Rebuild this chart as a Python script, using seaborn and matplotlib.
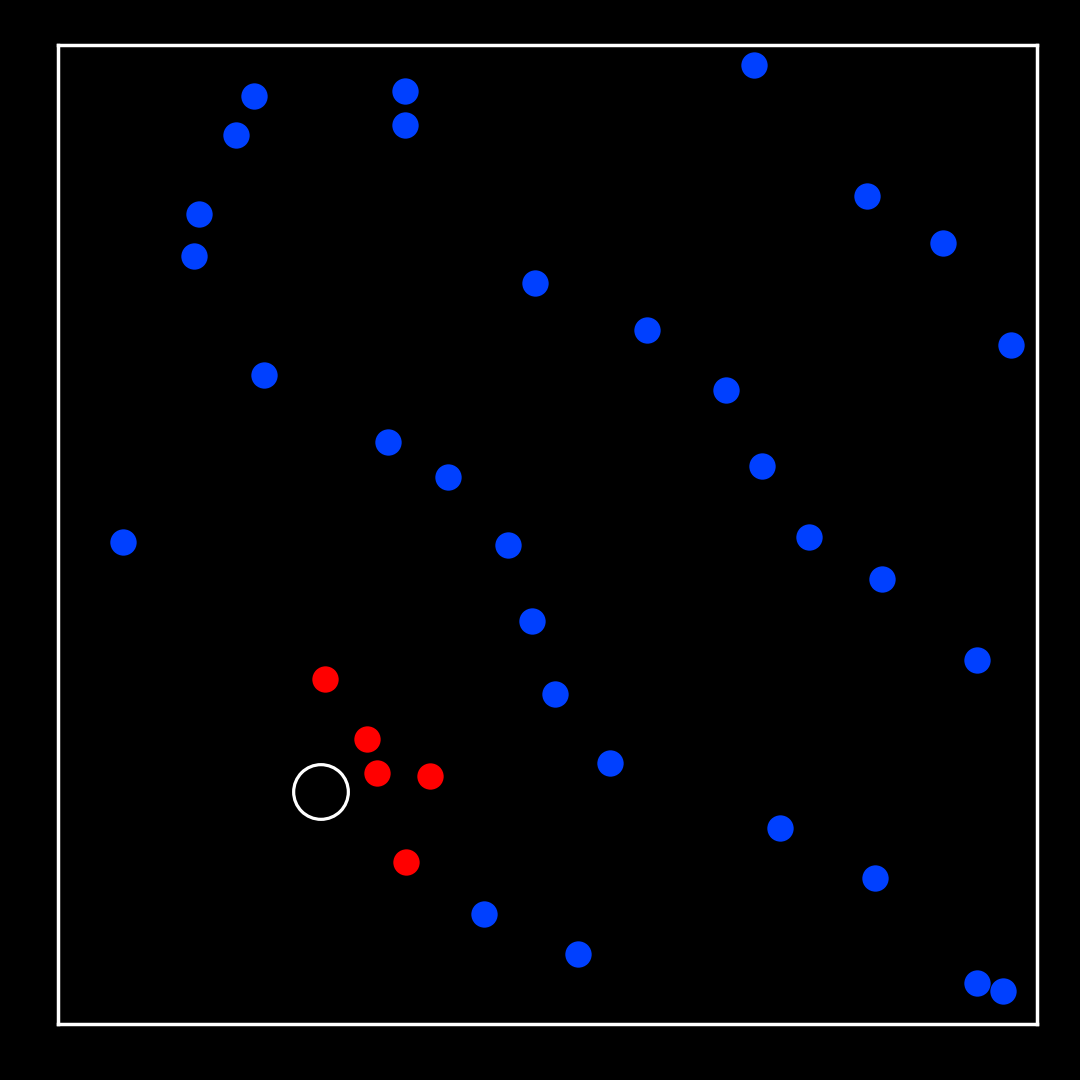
import seaborn as sns
import pandas as pd
from matplotlib import pyplot as plt

# Positions (pixel units inside the frame, y up)
blue_x = [196, 347, 696, 178, 347, 809, 141, 885, 136, 477, 589, 953, 206, 668,
          330, 390, 704, 65, 450, 751, 824, 474, 919, 497, 552, 722, 817, 426,
          520, 919, 945]
blue_y = [928, 933, 959, 889, 899, 828, 810, 781, 768, 741, 694, 679, 649, 634,
          582, 547, 558, 482, 479, 487, 445, 403, 364, 330, 261, 196, 146, 110,
          70, 41, 33]
red_x = [267, 309, 319, 372, 348]
red_y = [345, 285, 251, 248, 162]
ring_x = [263]
ring_y = [232]

sns.set_style('dark', {'axes.facecolor': 'black', 'figure.facecolor': 'black'})

fig = plt.figure(figsize=(10.8, 10.8), dpi=100)
ax = fig.add_axes([58/1080, 56/1080, 979/1080, 979/1080])

blue = pd.DataFrame({'x': blue_x, 'y': blue_y})
red = pd.DataFrame({'x': red_x, 'y': red_y})
ring = pd.DataFrame({'x': ring_x, 'y': ring_y})

sns.scatterplot(data=blue, x='x', y='y', color='#0040ff', s=360, linewidth=0, ax=ax)
sns.scatterplot(data=red, x='x', y='y', color='#ff0000', s=360, linewidth=0, ax=ax)
sns.scatterplot(data=ring, x='x', y='y', facecolor='none', edgecolor='white',
                s=1550, linewidth=2.3, ax=ax)

ax.set_xlim(0, 979)
ax.set_ylim(0, 979)
ax.set_xticks([])
ax.set_yticks([])
ax.set_xlabel('')
ax.set_ylabel('')
ax.grid(False)
for sp in ax.spines.values():
    sp.set_visible(True)
    sp.set_color('white')
    sp.set_linewidth(2.5)

plt.savefig('out.png', dpi=100, facecolor='black')
